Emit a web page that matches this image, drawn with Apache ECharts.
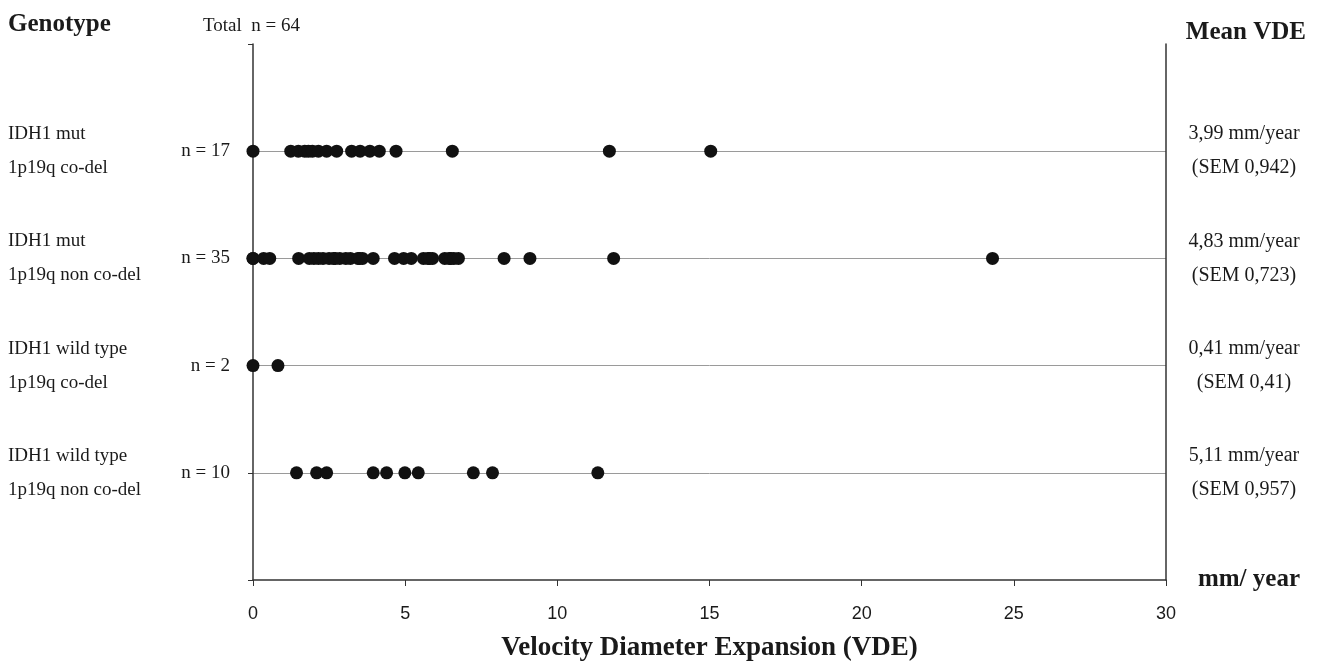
<!DOCTYPE html>
<html>
<head>
<meta charset="utf-8">
<script src="https://cdn.jsdelivr.net/npm/echarts@6/dist/echarts.min.js"></script>
<style>
  html, body { margin: 0; padding: 0; background: #fff; }
  #chart { width: 1320px; height: 661px; }
</style>
</head>
<body>
<div id="chart"></div>
<script>
// genotype rows, top to bottom
const genotypes = [
  'IDH1 mut\n1p19q co-del',
  'IDH1 mut\n1p19q non co-del',
  'IDH1 wild type\n1p19q co-del',
  'IDH1 wild type\n1p19q non co-del'
]
const counts = [17, 35, 2, 10]
const meanVde = ['3,99', '4,83', '0,41', '5,11']
const semVde = ['0,942', '0,723', '0,41', '0,957']

// VDE values (mm/year)
const vdeCoDel = [0, 1.24, 1.49, 1.7, 1.82, 1.95, 2.15, 2.42, 2.75, 3.24, 3.52, 3.84, 4.15, 4.7, 6.55, 11.71, 15.04]
const vdeNonCoDel = [0, 0, 0.35, 0.55, 1.5, 1.85, 2.0, 2.15, 2.3, 2.5, 2.65, 2.7, 2.85, 3.05, 3.2, 3.45, 3.5, 3.6, 3.95,
  4.65, 4.95, 5.2, 5.6, 5.75, 5.8, 5.9, 6.3, 6.45, 6.5, 6.6, 6.75, 8.25, 9.1, 11.85, 24.3]
const vdeWtCoDel = [0, 0.82]
const vdeWtNonCoDel = [1.43, 2.09, 2.42, 3.95, 4.39, 4.99, 5.43, 7.24, 7.87, 11.33]

const rowValues = [vdeCoDel, vdeNonCoDel, vdeWtCoDel, vdeWtNonCoDel]
const xTicks = [0, 30, 5]

const serif = '"Liberation Serif", "Times New Roman", serif'
const ink = '#1a1a1a'

// row i sits at y = 4 - i
const rowY = i => genotypes.length - i
const rowIndex = v => genotypes.length - v

const points = []
rowValues.forEach((vals, i) => vals.forEach(v => points.push([v, rowY(i)])))

const chart = echarts.init(document.getElementById('chart'))

chart.setOption({
  animation: false,
  title: [
    { text: 'Genotype', left: 8, top: 12, padding: 0,
      textStyle: { fontFamily: serif, fontWeight: 'bold', fontSize: 25, color: ink } },
    { text: 'Total  n = 64', left: 203, top: 17, padding: 0,
      textStyle: { fontFamily: serif, fontWeight: 'normal', fontSize: 19, color: ink } },
    { text: 'Mean VDE', right: 14, top: 20, padding: 0,
      textStyle: { fontFamily: serif, fontWeight: 'bold', fontSize: 25, color: ink } },
    { text: 'mm/ year', right: 20, top: 567, padding: 0,
      textStyle: { fontFamily: serif, fontWeight: 'bold', fontSize: 25, color: ink } }
  ],
  grid: { left: 253, right: 154, top: 44, bottom: 81, outerBoundsMode: 'none', containLabel: false },
  xAxis: {
    type: 'value',
    min: xTicks[0],
    max: xTicks[1],
    interval: xTicks[2],
    name: 'Velocity Diameter Expansion (VDE)',
    nameLocation: 'middle',
    nameGap: 55,
    nameTextStyle: { fontFamily: serif, fontWeight: 'bold', fontSize: 27, color: ink },
    axisLine: { lineStyle: { color: '#333', width: 1.5 } },
    axisTick: { length: 6, lineStyle: { color: '#333' } },
    axisLabel: { margin: 25, fontFamily: '"Liberation Sans", Arial, sans-serif', fontSize: 18, color: ink },
    splitLine: { show: false }
  },
  yAxis: [
    {
      type: 'value',
      position: 'left',
      min: 0,
      max: 5,
      interval: 1,
      axisLine: { show: true, lineStyle: { color: '#333', width: 1.5 } },
      axisTick: { show: true, length: 5, lineStyle: { color: '#333' } },
      axisLabel: {
        margin: 23,
        fontFamily: serif, fontSize: 19, color: ink,
        formatter: v => {
          const i = rowIndex(v)
          return i >= 0 && i < counts.length ? 'n = ' + counts[i] : ''
        }
      },
      splitLine: {
        show: true,
        lineStyle: { color: ['rgba(0,0,0,0)', '#9a9a9a', '#9a9a9a', '#9a9a9a', '#9a9a9a', 'rgba(0,0,0,0)'], width: 1 }
      }
    },
    {
      type: 'value',
      position: 'left',
      min: 0,
      max: 5,
      interval: 1,
      axisLine: { show: false },
      axisTick: { show: false },
      axisLabel: {
        margin: 245,
        align: 'left',
        lineHeight: 34,
        fontFamily: serif, fontSize: 19, color: ink,
        formatter: v => {
          const i = rowIndex(v)
          return i >= 0 && i < genotypes.length ? genotypes[i] : ''
        }
      },
      splitLine: { show: false }
    },
    {
      type: 'value',
      position: 'right',
      min: 0,
      max: 5,
      interval: 1,
      axisLine: { show: true, lineStyle: { color: '#333', width: 1.5 } },
      axisTick: { show: false },
      axisLabel: {
        margin: 78,
        align: 'center',
        lineHeight: 34,
        fontFamily: serif, fontSize: 20, color: ink,
        formatter: v => {
          const i = rowIndex(v)
          return i >= 0 && i < meanVde.length ? meanVde[i] + ' mm/year\n(SEM ' + semVde[i] + ')' : ''
        }
      },
      splitLine: { show: false }
    }
  ],
  series: [
    {
      type: 'scatter',
      yAxisIndex: 0,
      data: points,
      symbol: 'circle',
      symbolSize: 13,
      itemStyle: { color: '#111', opacity: 1 },
      clip: false
    }
  ]
})
</script>
</body>
</html>
